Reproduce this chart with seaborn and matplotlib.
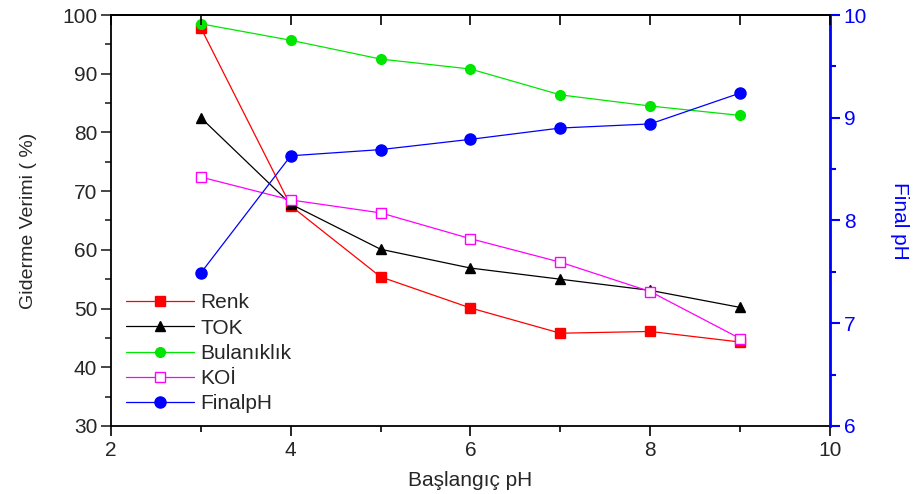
import matplotlib
matplotlib.use("Agg")
import matplotlib.pyplot as plt
import seaborn as sns
from matplotlib.ticker import MultipleLocator

baslangic_ph = [3, 4, 5, 6, 7, 8, 9]
renk = [97.8, 67.5, 55.4, 50.1, 45.8, 46.1, 44.3]
tok = [82.5, 67.8, 60.1, 56.9, 55.0, 53.1, 50.2]
bulaniklik = [98.5, 95.7, 92.5, 90.8, 86.4, 84.5, 82.9]
koi = [72.4, 68.5, 66.3, 61.9, 57.9, 52.9, 44.9]
final_ph = [7.49, 8.63, 8.69, 8.79, 8.90, 8.94, 9.24]

sns.set_style("white")
plt.rcParams["font.family"] = ["Liberation Sans", "DejaVu Sans"]

fig = plt.figure(figsize=(9.13, 4.94), dpi=100)
ax = fig.add_axes([0.1216, 0.1377, 0.7874, 0.8319])
ax2 = ax.twinx()
ax_top = ax.twiny()

common = dict(linewidth=0.9, markersize=7, markeredgewidth=1.0)
sns.lineplot(x=baslangic_ph, y=renk, ax=ax, color="#ff0000", marker="s",
             markeredgecolor="#ff0000", label="Renk", **common)
sns.lineplot(x=baslangic_ph, y=tok, ax=ax, color="#000000", marker="^",
             markeredgecolor="#000000", label="TOK", **common)
sns.lineplot(x=baslangic_ph, y=bulaniklik, ax=ax, color="#00e600", marker="o",
             markeredgecolor="#00e600", label="Bulanıklık", **common)
sns.lineplot(x=baslangic_ph, y=koi, ax=ax, color="#ff00ff", marker="s",
             markerfacecolor="white", markeredgecolor="#ff00ff", label="KOİ", **common)
sns.lineplot(x=baslangic_ph, y=final_ph, ax=ax2, color="#0000ff", marker="o",
             markeredgecolor="#0000ff", label="FinalpH", linewidth=0.9,
             markersize=8, markeredgewidth=1.0)

ax.set_xlim(2, 10)
ax.set_ylim(30, 100)
ax2.set_ylim(6, 10)
ax_top.set_xlim(2, 10)

ax.xaxis.set_major_locator(MultipleLocator(2))
ax.xaxis.set_minor_locator(MultipleLocator(1))
ax.yaxis.set_major_locator(MultipleLocator(10))
ax.yaxis.set_minor_locator(MultipleLocator(5))
ax2.yaxis.set_major_locator(MultipleLocator(1))
ax2.yaxis.set_minor_locator(MultipleLocator(0.5))
ax_top.xaxis.set_major_locator(MultipleLocator(2))
ax_top.xaxis.set_minor_locator(MultipleLocator(1))

ax.tick_params(axis="x", which="both", direction="out", bottom=True, top=False,
               labelsize=15, color="black", pad=4)
ax.tick_params(axis="y", which="both", direction="out", left=True, labelsize=15, pad=3)
ax.tick_params(which="major", length=7, width=1.2)
ax.tick_params(which="minor", length=4, width=1.2)

# top ticks point inward, no labels
ax_top.tick_params(axis="x", which="both", direction="in", top=True,
                   labeltop=False, width=1.2, color="black")
ax_top.tick_params(which="major", length=7)
ax_top.tick_params(which="minor", length=7)

ax2.tick_params(axis="y", which="both", direction="out", right=True,
                colors="#0000ff", labelsize=15, width=1.5, pad=3)
ax2.tick_params(which="major", length=7)
ax2.tick_params(which="minor", length=4)

for side in ["left", "bottom", "top"]:
    ax.spines[side].set_color("black")
    ax.spines[side].set_linewidth(1.3)
for a in (ax2, ax_top):
    for side in ["left", "bottom", "right"]:
        a.spines[side].set_visible(False)
ax_top.spines["top"].set_color("black")
ax_top.spines["top"].set_linewidth(1.3)
ax2.spines["top"].set_visible(False)
ax2.spines["right"].set_visible(True)
ax2.spines["right"].set_color("#0000ff")
ax2.spines["right"].set_linewidth(2)

ax.set_xlabel("Başlangıç pH", fontsize=15, labelpad=8)
ax.set_ylabel("Giderme Verimi ( %)", fontsize=14, labelpad=18)
ax2.set_ylabel("Final pH", fontsize=15, color="#0000ff", rotation=270, labelpad=30)

h1, l1 = ax.get_legend_handles_labels()
h2, l2 = ax2.get_legend_handles_labels()
ax2.get_legend().remove()
ax.get_legend().remove()
ax.legend(h1 + h2, l1 + l2, loc="lower left", bbox_to_anchor=(0.0, -0.005),
          frameon=False, fontsize=15, handlelength=3.3, labelspacing=0.3,
          borderaxespad=0.3, handletextpad=0.3)

fig.savefig("out.png", dpi=100)
